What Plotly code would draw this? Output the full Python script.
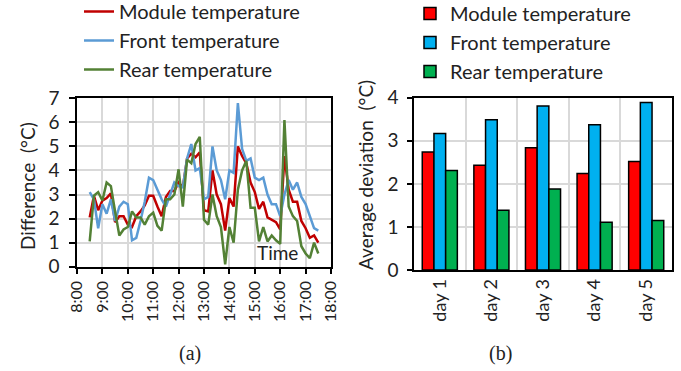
import plotly.graph_objects as go

# ---- data: panel (a) ----
start_hour = 8.5
step_hours = 1 / 6  # 10-minute samples
module_diff = [2.05, 2.95, 2.35, 2.75, 2.85, 3.05, 1.85, 2.1, 2.1, 1.75,
               1.65, 2.1, 2.3, 2.55, 2.95, 2.95, 2.5, 2.1, 2.9, 3.15,
               3.15, 3.5, 3.3, 4.5, 4.7, 4.55, 4.75, 2.35, 2.3, 4.0,
               3.0, 2.6, 1.5, 2.85, 2.5, 5.0, 4.6, 4.3, 3.5, 3.1,
               2.4, 2.7, 2.05, 1.95, 1.85, 1.55, 4.6, 3.2, 2.7, 2.7,
               1.9, 1.6, 1.2, 1.3, 1.0]
front_diff = [3.1, 2.8, 1.6, 2.6, 2.2, 2.8, 1.9, 2.5, 2.7, 2.6,
              1.1, 1.2, 1.9, 2.7, 3.7, 3.6, 3.2, 2.8, 2.5, 3.0,
              3.5, 3.35, 3.3, 4.5, 5.1, 4.0, 4.1, 2.8, 2.9, 5.0,
              4.0, 3.6, 2.8, 4.0, 3.9, 6.8, 4.9, 4.4, 4.5, 3.7,
              3.6, 3.7, 3.0, 2.6, 2.6, 2.1, 3.0, 3.6, 3.2, 3.5,
              2.9, 2.6, 2.1, 1.6, 1.5]
rear_diff = [1.05, 2.95, 3.1, 2.75, 3.5, 3.35, 2.3, 1.3, 1.55, 1.65,
             2.3, 2.05, 2.05, 1.75, 2.1, 2.25, 1.7, 1.5, 2.8, 2.8,
             3.0, 4.05, 2.5, 4.45, 4.3, 5.1, 5.4, 1.95, 1.75, 3.0,
             2.1, 1.65, 0.1, 1.65, 1.0, 3.2, 4.0, 4.4, 2.45, 2.45,
             1.05, 1.65, 1.05, 1.3, 1.1, 0.95, 6.1, 2.5, 2.1, 1.9,
             0.85, 0.55, 0.35, 1.0, 0.55]
time_hours = [start_hour + i * step_hours for i in range(len(module_diff))]
hour_ticks = list(range(8, 19))
hour_labels = [f"{h}:00" for h in hour_ticks]

# ---- data: panel (b) ----
days = ["day 1", "day 2", "day 3", "day 4", "day 5"]
module_avg = [2.74, 2.43, 2.84, 2.24, 2.52]
front_avg = [3.17, 3.49, 3.81, 3.37, 3.89]
rear_avg = [2.31, 1.39, 1.88, 1.11, 1.15]

series_names = ["Module temperature", "Front temperature", "Rear temperature"]
line_colors = ["#C00000", "#5B9BD5", "#538135"]
bar_colors = ["#FF0000", "#00B0F0", "#00B050"]

W, H = 681, 371
FONT = "Lato"
TXT = "#222222"
fig = go.Figure()

for name, vals, col in zip(series_names, [module_diff, front_diff, rear_diff], line_colors):
    fig.add_trace(go.Scatter(x=time_hours, y=vals, mode="lines", name=name,
                             line=dict(color=col, width=2.5),
                             xaxis="x", yaxis="y", legend="legend",
                             legendgroup=name + "a"))

for name, vals, col in zip(series_names, [module_avg, front_avg, rear_avg], bar_colors):
    fig.add_trace(go.Bar(x=days, y=vals, name=name,
                         marker=dict(color=col, line=dict(color="black", width=1.5)),
                         xaxis="x2", yaxis="y2", legend="legend2",
                         legendgroup=name + "b"))

grid = "#D9D9D9"
fig.update_layout(
    width=W, height=H, margin=dict(l=0, r=0, t=0, b=0, autoexpand=False),
    paper_bgcolor="white", plot_bgcolor="white",
    font=dict(family=FONT, size=18, color=TXT),
    barmode="group", bargap=0.32, bargroupgap=0,
    xaxis=dict(domain=[77 / W, 331 / W], range=[8, 18], tickvals=hour_ticks,
               ticktext=hour_labels, tickangle=-90, tickfont=dict(size=16),
               showgrid=True, gridcolor=grid, gridwidth=1.5, automargin=False,
               showline=True, linecolor="black", linewidth=1.5, mirror=True,
               ticks="outside", ticklen=6, tickcolor="black", tickwidth=1.5,
               zeroline=False, anchor="y"),
    yaxis=dict(domain=[(H - 266.7) / H, (H - 98.3) / H], range=[0, 7], dtick=1,
               showgrid=True, gridcolor=grid, gridwidth=1.5, automargin=False,
               showline=True, linecolor="black", linewidth=1.5, mirror=True,
               ticks="outside", ticklen=6, tickcolor="black", tickwidth=1.5,
               ticklabelstandoff=6,
               zeroline=False, anchor="x", tickfont=dict(size=19)),
    xaxis2=dict(domain=[414 / W, 672 / W], tickson="boundaries", tickangle=-90,
                tickfont=dict(size=18), showgrid=True, gridcolor=grid, gridwidth=1.5,
                showline=True, linecolor="black", linewidth=1.5, mirror=True,
                ticks="", anchor="y2", automargin=False),
    yaxis2=dict(domain=[(H - 270) / H, (H - 97.7) / H], range=[0, 4], dtick=1,
                showgrid=True, gridcolor=grid, gridwidth=1.5, automargin=False,
                showline=True, linecolor="black", linewidth=1.5, mirror=True,
                ticks="outside", ticklen=5, tickcolor="black", tickwidth=1.5,
                ticklabelstandoff=5,
                zeroline=False, anchor="x2", tickfont=dict(size=19)),
    legend=dict(xref="paper", yref="paper", x=79 / W, y=1 + 8 / H,
                xanchor="left", yanchor="top", font=dict(size=20), tracegroupgap=0,
                bgcolor="rgba(0,0,0,0)"),
    legend2=dict(xref="paper", yref="paper", x=410 / W, y=1 + 6 / H,
                 xanchor="left", yanchor="top", font=dict(size=20), tracegroupgap=0,
                 bgcolor="rgba(0,0,0,0)"),
    showlegend=True,
)

fig.add_annotation(text="Time", x=15.91, y=0.57, xref="x", yref="y",
                   xanchor="center", yanchor="middle",
                   showarrow=False, font=dict(size=19, color=TXT))
fig.add_annotation(text="Difference  (°C)", x=27 / W, y=1 - 186 / H, xref="paper",
                   yref="paper", xanchor="center", yanchor="middle",
                   textangle=-90, showarrow=False, font=dict(size=19))
fig.add_annotation(text="Average deviation  (°C)", x=365 / W, y=1 - 175 / H,
                   xref="paper", yref="paper", xanchor="center", yanchor="middle",
                   textangle=-90, showarrow=False, font=dict(size=19))
fig.add_annotation(text="(a)", x=190 / W, y=1 - 353 / H, xref="paper", yref="paper",
                   xanchor="center", yanchor="middle",
                   showarrow=False, font=dict(family="Liberation Serif", size=20))
fig.add_annotation(text="(b)", x=500 / W, y=1 - 353 / H, xref="paper", yref="paper",
                   xanchor="center", yanchor="middle",
                   showarrow=False, font=dict(family="Liberation Serif", size=20))

fig.write_html("out.html")
